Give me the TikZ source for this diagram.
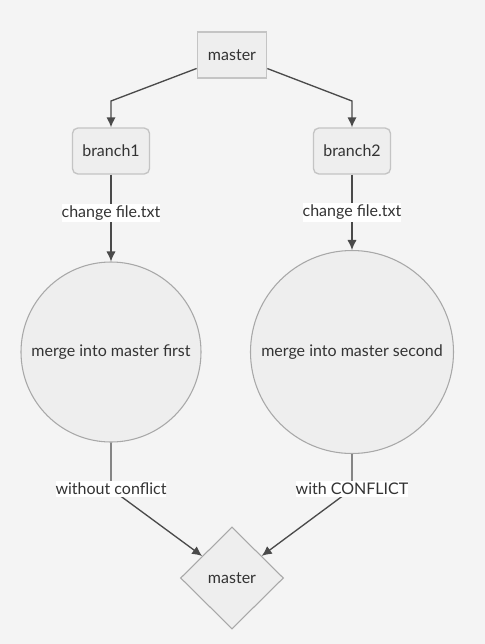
\documentclass[tikz,border=0pt]{standalone}
\usepackage{fontspec}
\setmainfont{Lato}
\usetikzlibrary{calc}
\usetikzlibrary{shapes.geometric}
\usetikzlibrary{arrows.meta}

\definecolor{bg}{HTML}{F4F4F4}
\definecolor{nodefill}{HTML}{EEEEEE}
\definecolor{nodeline}{HTML}{C4C4C4}
\definecolor{roundline}{HTML}{A8A8A8}
\definecolor{edgeline}{HTML}{4A4A4A}
\definecolor{txt}{HTML}{333333}

\begin{document}
\begin{tikzpicture}[inner sep=0pt,text=txt,font=\fontsize{12}{14}\selectfont,
  rect/.style={draw=nodeline,fill=nodefill,line width=1.3pt,minimum width=69*\u,minimum height=46*\u},
  rrect/.style={rect,rounded corners=4pt,line width=1pt,minimum width=77*\u},
  round/.style={circle,draw=roundline,fill=nodefill,line width=0.8pt},
  merged/.style={diamond,draw=roundline,fill=nodefill,line width=0.8pt,minimum width=103*\u,minimum height=102*\u},
  edge/.style={draw=edgeline,line width=1pt,-{Latex[length=7.5pt,width=7pt]}},
  lbl/.style={fill=white,inner xsep=0pt,inner ysep=1.5pt}]
\def\u{0.75pt}
\fill[bg] (0,0) rectangle (485*\u,-644*\u);

\node[rect] (master) at (232*\u,-55*\u) {master};
\node[rrect] (branch1) at (111*\u,-151*\u) {branch1};
\node[rrect] (branch2) at (352*\u,-151*\u) {branch2};
\node[round,minimum size=180*\u] (merge1) at (111*\u,-352*\u) {merge into master first};
\node[round,minimum size=203*\u] (merge2) at (352*\u,-352*\u) {merge into master second};
\node[merged] (done) at (232*\u,-578*\u) {master};

\coordinate (k1) at (111*\u,-101*\u);
\coordinate (k2) at (352*\u,-101*\u);
\coordinate (j1) at (111*\u,-489*\u);
\coordinate (j2) at (352*\u,-489*\u);

\draw[edge] (master) -- (k1) -- (branch1);
\draw[edge] (master) -- (k2) -- (branch2);
\draw[edge] (branch1) -- node[lbl,pos=0.44] {change file.txt} (merge1);
\draw[edge] (branch2) -- node[lbl,pos=0.5] {change file.txt} (merge2);
\draw[edge] (merge1) -- (j1) node[lbl] {without conflict} -- (done);
\draw[edge] (merge2) -- (j2) node[lbl] {with CONFLICT} -- (done);
\end{tikzpicture}
\end{document}
